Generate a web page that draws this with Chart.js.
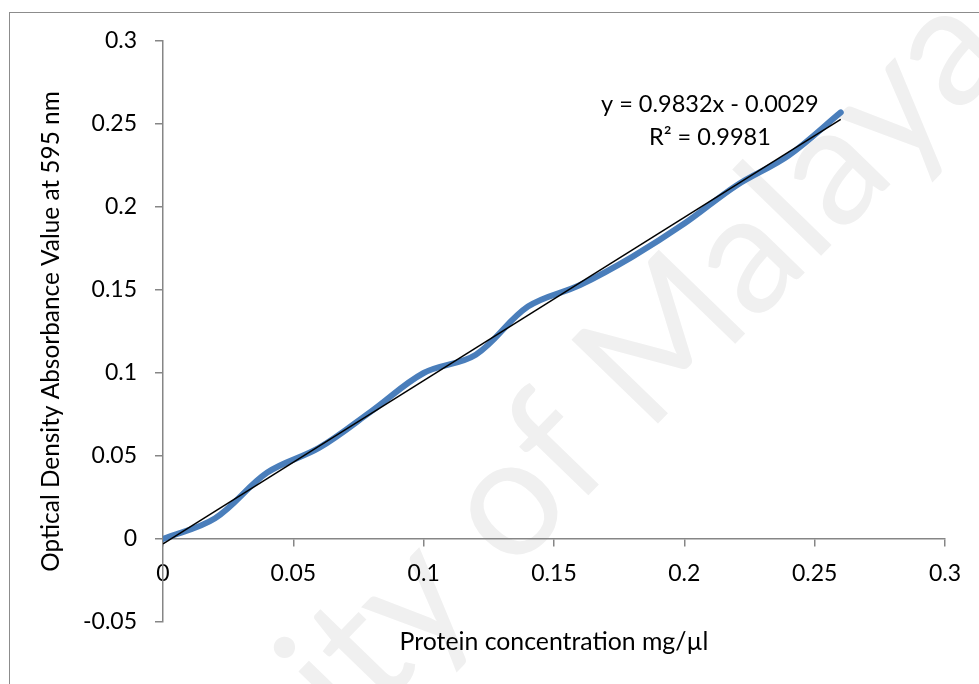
<!DOCTYPE html>
<html>
<head>
<meta charset="utf-8">
<script src="https://cdn.jsdelivr.net/npm/chart.js@4.4.1/dist/chart.umd.min.js"></script>
<style>
  html, body { margin: 0; padding: 0; background: #ffffff; }
  canvas { display: block; }
</style>
</head>
<body>
<canvas id="chart-area" width="979" height="684"></canvas>
<script>
// protein standard curve values
var concentration = [0, 0.02, 0.04, 0.06, 0.08, 0.10, 0.12, 0.14, 0.16, 0.18, 0.20, 0.22, 0.24, 0.26];
var absorbance = [0, 0.0125, 0.04, 0.055, 0.077, 0.1, 0.111, 0.14, 0.153, 0.17, 0.19, 0.213, 0.231, 0.257];

// linear trendline as printed on the chart
var trendSlope = 0.9832;
var trendIntercept = -0.0029;
var trendRange = [0, 0.26];
var trendLabels = ["y = 0.9832x - 0.0029", "R\u00B2 = 0.9981"];

var xTicks = [0, 0.05, 0.1, 0.15, 0.2, 0.25, 0.3];
var yTicks = [-0.05, 0, 0.05, 0.1, 0.15, 0.2, 0.25, 0.3];

var FONT = "Lato, 'Open Sans', sans-serif";
var AXIS_GREY = "#868686";

function GetSeries() {
    var pts = [];
    for (var i = 0; i < concentration.length; i++) {
        pts.push({ x: concentration[i], y: absorbance[i] });
    }
    return pts;
}

function GetTrend() {
    return trendRange.map(function (x) {
        return { x: x, y: trendSlope * x + trendIntercept };
    });
}

function FormatTick(v) {
    return String(Number(v.toFixed(3)));
}

var backdrop = {
    id: "backdrop",
    beforeDraw: function (chart) {
        var c = chart.ctx;
        c.save();
        c.fillStyle = "#ffffff";
        c.fillRect(0, 0, chart.width, chart.height);
        // outer chart border (cut off at right and bottom)
        c.strokeStyle = "#8c8c8c";
        c.lineWidth = 1;
        c.strokeRect(9.5, 12.5, 1200, 900);
        // watermark
        c.translate(448, 562);
        c.rotate(-0.8);
        c.fillStyle = "#f0f0f0";
        c.font = "168px " + FONT;
        c.textAlign = "center";
        c.textBaseline = "middle";
        c.fillText("University of Malaya", 0, 0);
        c.restore();
    }
};

var equation = {
    id: "equation",
    afterDatasetsDraw: function (chart) {
        var c = chart.ctx;
        var xs = chart.scales.x, ys = chart.scales.y;
        var cx = xs.getPixelForValue(0.2098);
        var cy = ys.getPixelForValue(0.2617);
        c.save();
        c.fillStyle = "#000000";
        c.font = "23.5px " + FONT;
        c.textAlign = "center";
        c.textBaseline = "middle";
        c.fillText(trendLabels[0], cx, cy);
        c.fillText(trendLabels[1], cx, cy + 33);
        c.restore();
    }
};

var config = {
    type: "scatter",
    data: {
        datasets: [{
            label: "Absorbance",
            data: GetSeries(),
            showLine: true,
            borderColor: "#4a7ebb",
            backgroundColor: "#4a7ebb",
            borderWidth: 6,
            pointRadius: 0,
            tension: 0.35,
            borderCapStyle: "round",
            order: 2
        }, {
            label: "Linear",
            data: GetTrend(),
            showLine: true,
            borderColor: "#000000",
            borderWidth: 1.5,
            pointRadius: 0,
            tension: 0,
            order: 1
        }]
    },
    options: {
        responsive: false,
        animation: false,
        devicePixelRatio: 1,
        layout: { padding: { top: 41, right: 34, bottom: 62, left: 0 } },
        plugins: {
            legend: { display: false },
            tooltip: { enabled: false }
        },
        scales: {
            x: {
                type: "linear",
                position: { y: 0 },
                min: 0,
                max: 0.3,
                afterBuildTicks: function (scale) {
                    scale.ticks = xTicks.map(function (v) { return { value: v }; });
                },
                afterFit: function (scale) { scale.height = 120; },
                ticks: {
                    color: "#000000",
                    font: { family: FONT, size: 23 },
                    padding: 14,
                    maxRotation: 0,
                    callback: FormatTick
                },
                grid: { drawOnChartArea: false, drawTicks: true, tickLength: 7, color: AXIS_GREY, lineWidth: 1.5 },
                border: { display: true, color: AXIS_GREY, width: 1.5 },
                title: {
                    display: true,
                    text: "Protein concentration mg/\u00B5l",
                    color: "#000000",
                    font: { family: FONT, size: 24.8 },
                    padding: { top: 0, bottom: 2 }
                }
            },
            y: {
                type: "linear",
                position: "left",
                min: -0.05,
                max: 0.3,
                afterBuildTicks: function (scale) {
                    scale.ticks = yTicks.map(function (v) { return { value: v }; });
                },
                afterFit: function (scale) { scale.width = 163; },
                ticks: {
                    color: "#000000",
                    font: { family: FONT, size: 23 },
                    padding: 18,
                    callback: FormatTick
                },
                grid: { drawOnChartArea: false, drawTicks: true, tickLength: 8, color: AXIS_GREY, lineWidth: 1.5 },
                border: { display: true, color: AXIS_GREY, width: 1.5 },
                title: {
                    display: true,
                    text: "Optical Density Absorbance Value at 595 nm",
                    color: "#000000",
                    font: { family: FONT, size: 24.4 },
                    padding: { top: 37, bottom: 0 }
                }
            }
        }
    },
    plugins: [backdrop, equation]
};

function CreateGraph() {
    var ctx = document.getElementById("chart-area").getContext("2d");
    window.myChart = new Chart(ctx, config);
}

CreateGraph();
</script>
</body>
</html>
